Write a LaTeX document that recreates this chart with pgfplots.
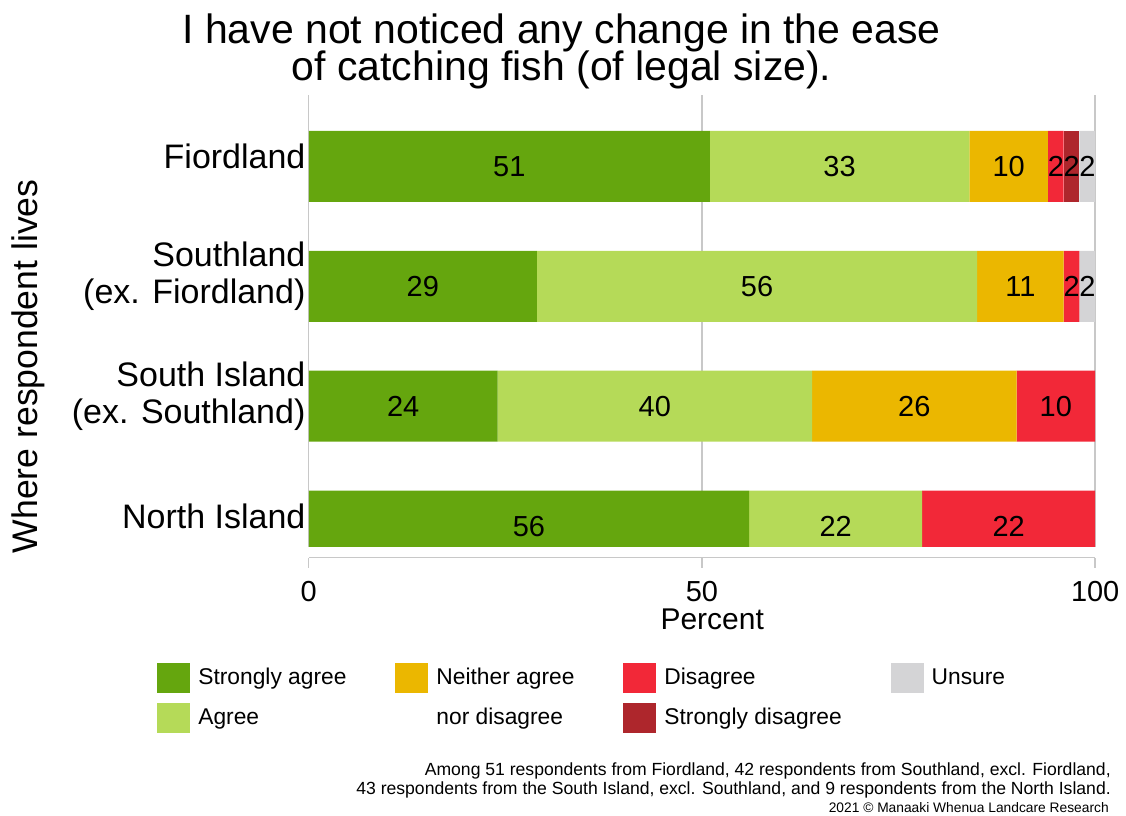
\documentclass[border=0pt]{standalone}
\usepackage{fontspec}
\setmainfont{Liberation Sans}
\usepackage{pgfplots}
\pgfplotsset{compat=1.18}

\definecolor{sagree}{RGB}{101,166,14}
\definecolor{agree}{RGB}{181,218,88}
\definecolor{neither}{RGB}{235,183,0}
\definecolor{disagree}{RGB}{242,40,56}
\definecolor{sdisagree}{RGB}{174,38,44}
\definecolor{unsure}{RGB}{212,212,214}
\definecolor{gridgray}{RGB}{200,200,200}

% segment label, hidden for empty segments
\protected\def\seglabel#1{\pgfmathparse{(#1>0.5)?1:0}%
  \ifdim\pgfmathresult pt>0.5pt\relax\pgfmathprintnumber[fixed,precision=0]{#1}\fi}

\begin{document}
\begin{tikzpicture}
\begin{axis}[
  name=ax,
  xbar stacked,
  scale only axis,
  width=393.5pt, height=226pt,
  xmin=0, xmax=100,
  ymin=-0.171, ymax=3.596,
  bar width=35.5pt,
  axis x line*=bottom,
  axis y line*=left,
  y axis line style={draw=none},
  x axis line style={gridgray, line width=0.7pt, yshift=-5.5pt},
  xtick={0,50,100},
  xtick style={gridgray, line width=0.7pt, yshift=-5.5pt},
  tick align=outside,
  major tick length=5pt,
  ytick={0,1,2,3},
  ytick style={draw=none},
  yticklabels={North Island,{South Island\\(ex. Southland)},{Southland\\(ex. Fiordland)},Fiordland},
  yticklabel style={align=right, anchor=east, inner sep=0pt, xshift=3.5pt, yshift=5pt,
    font=\fontsize{17}{18.5}\selectfont},
  xticklabel style={anchor=center, yshift=-17.5pt, font=\fontsize{14.5}{16}\selectfont},
  /pgf/number format/assume math mode=true,
  xmajorgrids,
  major grid style={gridgray, line width=0.7pt},
  xlabel={Percent},
  xlabel style={at={(axis description cs:0.513,-0.1615)}, anchor=center, font=\fontsize{15}{17}\selectfont},
  ylabel={Where respondent lives},
  ylabel style={at={(axis description cs:-0.356,0.399)}, anchor=center, font=\fontsize{17.8}{19}\selectfont},
  title={I have not noticed any change in the ease\\[-5.5pt]of catching fish (of legal size).},
  title style={at={(axis description cs:0.3215,1)}, anchor=south, align=center, inner sep=1pt,
    yshift=-4.2pt, font=\fontsize{20.5}{24}\selectfont},
  visualization depends on={rawx \as \rawx},
  nodes near coords={\seglabel{\rawx}},
  every node near coord/.append style={anchor=center, black, font=\fontsize{14.5}{16}\selectfont},
  legend columns=4,
  legend cell align=left,
  legend image code/.code={\fill[#1, draw=none] (0pt,-7.5pt) rectangle (16.5pt,7.5pt);},
  legend style={at={(axis description cs:-0.193,-0.2566)}, anchor=north west, draw=none, fill=none,
    inner sep=0pt, font=\fontsize{11.4}{13}\selectfont, row sep=5pt,
    /tikz/every odd column/.append style={column sep=2pt},
    /tikz/every even column/.append style={column sep=22.5pt}},
]
\addplot[fill=sagree, draw=none, forget plot] coordinates {(51,3) (29,2) (24,1) (56,0)};
\addplot[fill=agree, draw=none, forget plot] coordinates {(33,3) (56,2) (40,1) (22,0)};
\addplot[fill=neither, draw=none, forget plot] coordinates {(10,3) (11,2) (26,1) (0,0)};
\addplot[fill=disagree, draw=none, forget plot] coordinates {(2,3) (2,2) (10,1) (22,0)};
\addplot[fill=sdisagree, draw=none, forget plot] coordinates {(2,3) (0,2) (0,1) (0,0)};
\addplot[fill=unsure, draw=none, forget plot] coordinates {(2,3) (2,2) (0,1) (0,0)};

\addlegendimage{fill=sagree}\addlegendentry{Strongly agree}
\addlegendimage{fill=neither}\addlegendentry{Neither agree}
\addlegendimage{fill=disagree}\addlegendentry{Disagree}
\addlegendimage{fill=unsure}\addlegendentry{Unsure}
\addlegendimage{fill=agree}\addlegendentry{Agree}
\addlegendimage{empty legend}\addlegendentry{nor disagree}
\addlegendimage{fill=sdisagree}\addlegendentry{Strongly disagree}
\end{axis}
\node[anchor=east, align=right, inner sep=0pt, font=\fontsize{8.8}{9.2}\selectfont]
  at ([shift={(401.5pt,-117pt)}]ax.south west)
  {Among 51 respondents from Fiordland, 42 respondents from Southland, excl. Fiordland,\\
   43 respondents from the South Island, excl. Southland, and 9 respondents from the North Island.};
\node[anchor=east, inner sep=0pt, font=\fontsize{6.9}{8}\selectfont]
  at ([shift={(400.5pt,-130.5pt)}]ax.south west) {2021 © Manaaki Whenua Landcare Research};
\path ([shift={(-154.5pt,-134.5pt)}]ax.south west) rectangle ++(563pt,408pt);
\end{tikzpicture}
\end{document}
